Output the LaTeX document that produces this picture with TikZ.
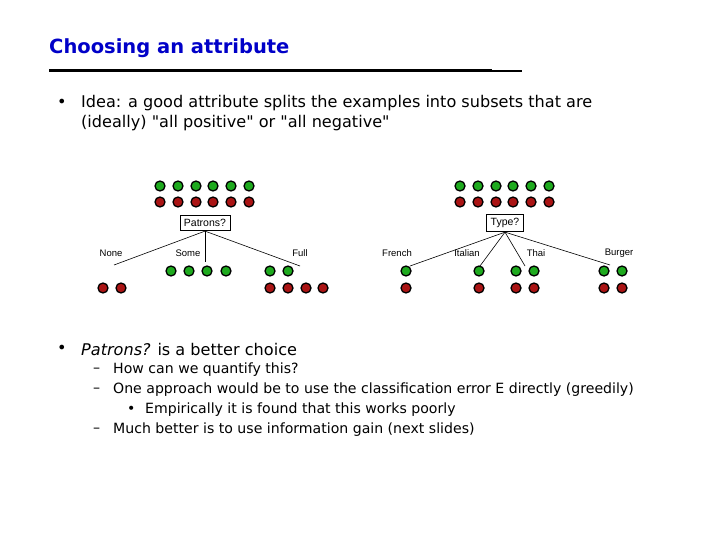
\documentclass[tikz,border=0pt]{standalone}
\usepackage{fontspec}
\setmainfont{DejaVu Sans}
\newfontfamily\lab{Liberation Sans}
\definecolor{gr}{RGB}{30,170,30}
\definecolor{rd}{RGB}{170,20,20}
\definecolor{tb}{RGB}{0,0,200}
\begin{document}
\begin{tikzpicture}[x=1pt,y=-1pt,
 g/.style={circle,fill=gr,draw=black,line width=1.3pt,minimum size=10pt,inner sep=0pt},
 r/.style={circle,fill=rd,draw=black,line width=1.3pt,minimum size=10pt,inner sep=0pt},
 q/.style={draw,line width=0.8pt,fill=white,font=\lab\fontsize{10.5}{12}\selectfont,inner xsep=4pt,inner ysep=4pt},
 l/.style={font=\lab\fontsize{9.5}{11}\selectfont},
 tx/.style={anchor=west,font=\fontsize{16.1}{18}\selectfont,inner sep=0pt},
 sx/.style={anchor=west,font=\fontsize{14.1}{16}\selectfont,inner sep=0pt},
 e/.style={line width=0.6pt}]
\useasboundingbox (0,0) rectangle (720,540);
\node[anchor=west,inner sep=0,text=tb,font=\bfseries\fontsize{19.5}{22}\selectfont] (title) at (49,48) {Choosing an attribute};
\coordinate (r1) at (49,71); \coordinate (r2) at (492,71); \coordinate (r3) at (522,71);
\draw[line width=3pt] (r1) -- (r2);
\draw[line width=1.5pt] (r2) -- (r3);
\node[tx] (b1) at (57,103) {•};
\node[tx] (t1) at (81,103) {Idea: a good attribute splits the examples into subsets that are};
\node[tx] (t2) at (81,123) {(ideally) \textquotedbl all positive\textquotedbl\ or \textquotedbl all negative\textquotedbl};
% left tree
\foreach \x [count=\i] in {160,178,196,213,231,249}{
 \node[g] (lg\i) at (\x,186) {}; \node[r] (lr\i) at (\x,202) {};}
\node[q] (pat) at (205,223) {Patrons?};
\coordinate (none) at (114,265); \coordinate (some) at (205,262); \coordinate (full) at (300,266);
\draw[e] (pat.south) -- (none); \draw[e] (pat.south) -- (some); \draw[e] (pat.south) -- (full);
\node[l] (ln) at (111,253) {None};
\node[l] (ls) at (188,253) {Some};
\node[l] (lf) at (300,253) {Full};
\foreach \x [count=\i] in {171,189,207,226}{\node[g] (sg\i) at (\x,271) {};}
\foreach \x [count=\i] in {103,121}{\node[r] (nr\i) at (\x,288) {};}
\foreach \x [count=\i] in {270,288}{\node[g] (fg\i) at (\x,271) {};}
\foreach \x [count=\i] in {270,288,306,323}{\node[r] (fr\i) at (\x,288) {};}
% right tree
\foreach \x [count=\i] in {460,478,496,513,531,549}{
 \node[g] (rg\i) at (\x,186) {}; \node[r] (rr\i) at (\x,202) {};}
\node[q] (typ) at (505,223) {Type?};
\coordinate (fr) at (410,266); \coordinate (it) at (480,266); \coordinate (th) at (525,266); \coordinate (bu) at (610,265);
\foreach \c in {fr,it,th,bu}{\draw[e] (typ.south) -- (\c);}
\node[l] (lfr) at (397,253) {French};
\node[l] (lit) at (467,253) {Italian};
\node[l] (lth) at (536,253) {Thai};
\node[l] (lbu) at (619,253) {Burger};
\foreach \x [count=\i] in {406,479,516,534,604,622}{\node[g] (tg\i) at (\x,271) {}; \node[r] (tr\i) at (\x,288) {};}
% lower text
\node[tx] (b2) at (57,349) {•};
\node[tx] (t3) at (81,349) {\textit{Patrons?} is a better choice};
\node[sx] (d1) at (93,370) {–};
\node[sx] (u1) at (113,370) {How can we quantify this?};
\node[sx] (d2) at (93,390) {–};
\node[sx] (u2) at (113,390) {One approach would be to use the classification error E directly (greedily)};
\node[sx] (b3) at (127,410) {•};
\node[sx] (u3) at (145,410) {Empirically it is found that this works poorly};
\node[sx] (d3) at (93,430) {–};
\node[sx] (u4) at (113,430) {Much better is to use information gain (next slides)};
\end{tikzpicture}
\end{document}
